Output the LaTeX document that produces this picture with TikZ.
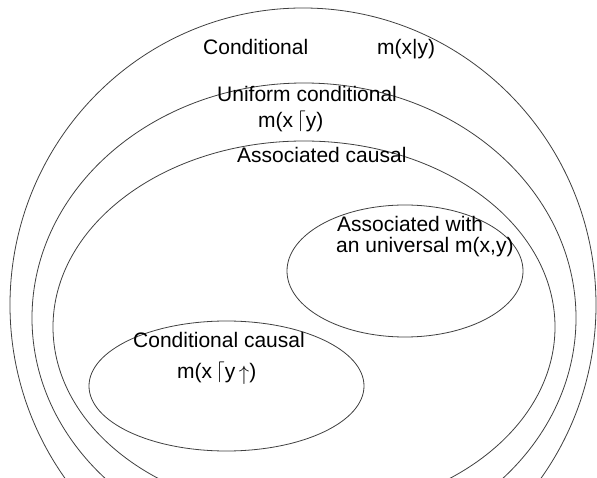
\documentclass[tikz,border=0pt]{standalone}
\usepackage{fontspec}
\setmainfont{Liberation Sans}
\begin{document}
\begin{tikzpicture}[x=1pt,y=-1pt,
  setline/.style={draw=black!75,line width=0.8pt},
  lbl/.style={anchor=base west,inner sep=0pt,font=\fontsize{21}{25}\selectfont}]
\clip (0,0) rectangle (597,478);
\fill[white] (0,0) rectangle (597,478);
\draw[setline] (303,305) ellipse [x radius=293,y radius=297];
\draw[setline] (304,318) ellipse [x radius=272,y radius=235];
\draw[setline] (304,327) ellipse [x radius=251,y radius=186];
\draw[setline] (405,271) ellipse [x radius=118,y radius=66];
\draw[setline] (226.5,386) ellipse [x radius=137.5,y radius=65];
\node[lbl] (cond) at (203,55) {Conditional};
\node[lbl] (condm) at (377,55) {m(x|y)};
\node[lbl] (unif) at (217,102) {Uniform conditional};
\node[lbl] (unifm) at (258,128) {m(x\,\raisebox{1pt}{$\lceil$}y)};
\node[lbl] (assoc) at (237,163) {Associated causal};
\node[lbl] (assw) at (337,232) {Associated with};
\node[lbl] (assu) at (336,253) {an universal m(x,y)};
\node[lbl] (ccaus) at (133,347) {Conditional causal};
\node[lbl] (ccausm) at (177,378) {m(x\,\raisebox{1pt}{$\lceil$}y\,\raisebox{-2pt}{$\uparrow$})};
\end{tikzpicture}
\end{document}
